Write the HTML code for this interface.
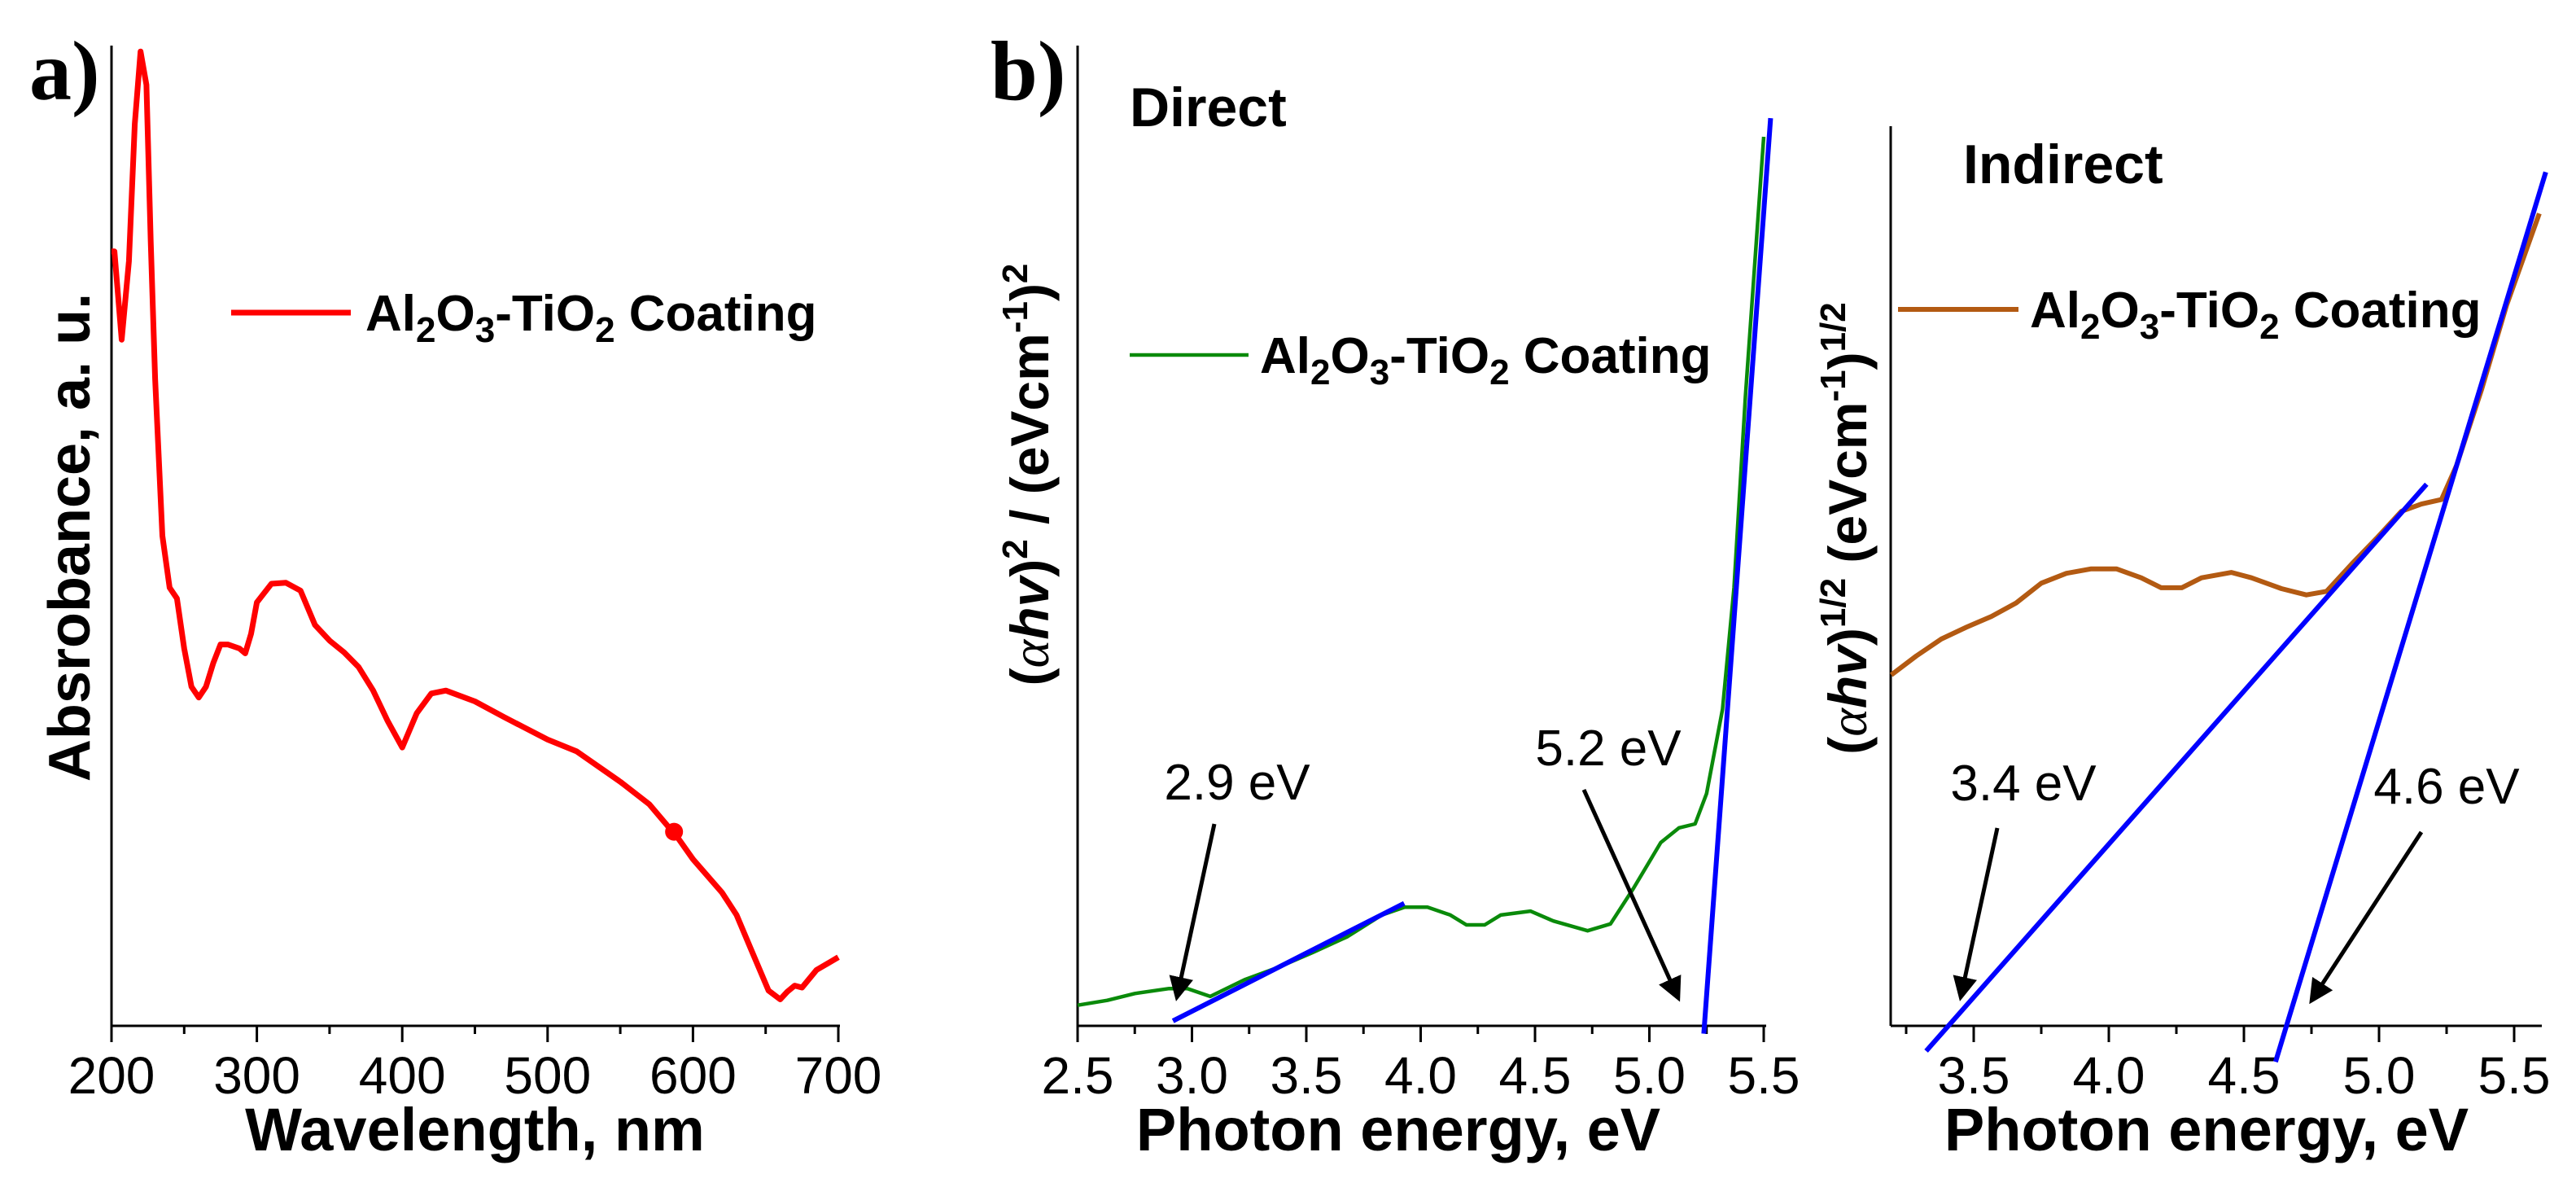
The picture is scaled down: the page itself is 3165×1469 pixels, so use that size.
<!DOCTYPE html>
<html><head><meta charset="utf-8"><style>
html,body{margin:0;padding:0;background:#fff;}
svg{display:block;}
text{font-family:"Liberation Sans",Arial,sans-serif;}
.serif{font-family:"Liberation Serif",serif;}
</style></head><body>
<svg id="fig" width="3165" height="1469" viewBox="0 0 3165 1469" xmlns="http://www.w3.org/2000/svg">
<defs>
<marker id="ah" markerWidth="6" markerHeight="6" refX="5" refY="3" orient="auto" markerUnits="strokeWidth"><path d="M0,0 L6,3 L0,6 Z" fill="#000"/></marker>
</defs>
<g id="pa"></g>
<g id="pb"></g>
<g id="pc"></g>
</svg>
<script>
// Panel a data
const aWl = [200,202,207,212,216,220,224,227,230,235,240,245,250,255,260,265,270,275,280,288,292,296,300,310,320,330,340,350,360,370,380,390,400,410,420,430,450,470,500,520,550,570,590,600,620,630,640,652,660,665,670,675,685,700];
const aAbs = [0.79,0.79,0.70,0.78,0.92,0.994,0.96,0.80,0.66,0.50,0.447,0.436,0.385,0.346,0.335,0.346,0.37,0.389,0.389,0.385,0.38,0.40,0.432,0.451,0.452,0.444,0.409,0.393,0.381,0.366,0.342,0.311,0.284,0.319,0.339,0.342,0.331,0.315,0.292,0.280,0.249,0.226,0.191,0.170,0.136,0.113,0.078,0.036,0.027,0.035,0.041,0.039,0.057,0.07];
const aTicks = [200,300,400,500,600,700];
const aMarker = [587,0.198];
// Panel b data
const bE = [2.5,2.63,2.75,2.9,2.98,3.08,3.23,3.38,3.53,3.68,3.83,3.93,4.03,4.13,4.2,4.28,4.35,4.48,4.58,4.73,4.83,4.93,5.05,5.13,5.2,5.25,5.32,5.37,5.42,5.5];
const bV = [0.021,0.026,0.033,0.038,0.038,0.030,0.047,0.060,0.075,0.091,0.113,0.121,0.121,0.113,0.103,0.103,0.113,0.117,0.107,0.097,0.104,0.140,0.187,0.202,0.206,0.237,0.323,0.447,0.642,0.907];
const bFit1 = [[2.917,0.005],[3.928,0.125]];
const bFit2 = [[5.238,-0.008],[5.53,0.926]];
const bTicks = ["2.5","3.0","3.5","4.0","4.5","5.0","5.5"];
// Panel c data
const cE = [3.195,3.287,3.38,3.472,3.565,3.657,3.75,3.843,3.935,4.028,4.12,4.194,4.27,4.343,4.454,4.528,4.639,4.731,4.806,4.898,4.991,5.083,5.157,5.231,5.287,5.38,5.472,5.593];
const cV = [0.390,0.411,0.430,0.443,0.455,0.470,0.492,0.503,0.508,0.508,0.498,0.487,0.487,0.498,0.504,0.498,0.486,0.479,0.483,0.513,0.542,0.572,0.580,0.585,0.623,0.708,0.801,0.903];
const cFit1 = [[3.324,-0.028],[5.176,0.602]];
const cFit2 = [[4.617,-0.040],[5.617,0.949]];
const cTicks = ["3.5","4.0","4.5","5.0","5.5"];

const NS="http://www.w3.org/2000/svg";
function mk(parent,tag,attrs,txt){const e=document.createElementNS(NS,tag);for(const k in attrs)e.setAttribute(k,attrs[k]);if(txt!==undefined)e.textContent=txt;parent.appendChild(e);return e;}
function pathOf(xs,ys,sx,sy){return xs.map((x,i)=>(i?'L':'M')+sx(x).toFixed(1)+','+sy(ys[i]).toFixed(1)).join(' ');}
const AX=1260;

// ---------- Panel a ----------
const pa=document.getElementById('pa');
const ax=w=>137+(w-200)*(1030-137)/500, ay=v=>1260-v*(1260-56);
let e;
e=mk(pa,'line',{x1:137,y1:56,x2:137,y2:AX,stroke:'#000','stroke-width':3});


e=mk(pa,'line',{x1:137,y1:AX,x2:1032,y2:AX,stroke:'#000','stroke-width':3});


for(let w=200;w<=700;w+=50){const maj=w%100===0;e=mk(pa,'line',{x1:ax(w),y1:AX,x2:ax(w),y2:AX+(maj?20:10),stroke:'#000','stroke-width':3});

}
aTicks.forEach(t=>{e=mk(pa,'text',{x:ax(t),y:1343,'font-size':64,'text-anchor':'middle'},String(t));

});
e=mk(pa,'text',{x:ax(450),y:1413,'font-size':74,'font-weight':'bold','text-anchor':'middle'},'Wavelength, nm');


e=mk(pa,'text',{x:0,y:0,'font-size':72,'font-weight':'bold','text-anchor':'middle',transform:'translate(110,660) rotate(-90)'},'Absrobance, a. u.');


e=mk(pa,'text',{x:36,y:122,'font-size':104,'font-weight':'bold','class':'serif'},'a)');


e=mk(pa,'path',{d:pathOf(aWl,aAbs,ax,ay),fill:'none',stroke:'#ff0000','stroke-width':7,'stroke-linejoin':'round'});


e=mk(pa,'circle',{cx:ax(aMarker[0]),cy:ay(aMarker[1]),r:11,fill:'#ff0000'});


e=mk(pa,'line',{x1:284,y1:384,x2:431,y2:384,stroke:'#ff0000','stroke-width':7});



function legendText(g,x,y,name){const t=mk(g,'text',{x:x,y:y,'font-size':62,'font-weight':'bold'});


t.innerHTML='Al<tspan dy="14" font-size="44">2</tspan><tspan dy="-14">O</tspan><tspan dy="14" font-size="44">3</tspan><tspan dy="-14">-TiO</tspan><tspan dy="14" font-size="44">2</tspan><tspan dy="-14"> Coating</tspan>';}
legendText(pa,449,406,'legend-text-a');

// ---------- Panel b ----------
const pb=document.getElementById('pb');
const bx=v=>1324+(v-2.5)*281, by=v=>1260-v*(1260-56);
e=mk(pb,'line',{x1:1324,y1:56,x2:1324,y2:AX,stroke:'#000','stroke-width':3});


e=mk(pb,'line',{x1:1324,y1:AX,x2:2170,y2:AX,stroke:'#000','stroke-width':3});


for(let k=0;k<=12;k++){const v=2.5+k*0.25;e=mk(pb,'line',{x1:bx(v),y1:AX,x2:bx(v),y2:AX+(k%2===0?20:10),stroke:'#000','stroke-width':3});

}
bTicks.forEach(t=>{e=mk(pb,'text',{x:bx(parseFloat(t)),y:1343,'font-size':64,'text-anchor':'middle'},t);

});
e=mk(pb,'text',{x:1718,y:1413,'font-size':74,'font-weight':'bold','text-anchor':'middle'},'Photon energy, eV');


e=mk(pb,'text',{x:0,y:0,'font-size':66,'font-weight':'bold','text-anchor':'middle',transform:'translate(1288,583) rotate(-90)'});


e.innerHTML='(<tspan font-weight="normal" class="serif" font-style="italic">α</tspan><tspan font-style="italic">hv</tspan>)<tspan dy="-26" font-size="44">2</tspan><tspan dy="26"> / (eVcm</tspan><tspan dy="-26" font-size="44">-1</tspan><tspan dy="26">)</tspan><tspan dy="-26" font-size="44">2</tspan>';
e=mk(pb,'text',{x:1217,y:122,'font-size':104,'font-weight':'bold','class':'serif'},'b)');


e=mk(pb,'text',{x:1388,y:155,'font-size':68,'font-weight':'bold'},'Direct');


e=mk(pb,'path',{d:pathOf(bE,bV,bx,by),fill:'none',stroke:'#0a8a0a','stroke-width':4.5,'stroke-linejoin':'round'});


[bFit1,bFit2].forEach((f,i)=>{e=mk(pb,'line',{x1:bx(f[0][0]),y1:by(f[0][1]),x2:bx(f[1][0]),y2:by(f[1][1]),stroke:'#0000ff','stroke-width':6});

});
e=mk(pb,'line',{x1:1388,y1:436,x2:1534,y2:436,stroke:'#0a8a0a','stroke-width':4.5});


legendText(pb,1548,458,'legend-text-b');
e=mk(pb,'text',{x:1520,y:982,'font-size':62,'text-anchor':'middle'},'2.9 eV');


e=mk(pb,'line',{x1:1492,y1:1012,x2:1446,y2:1225,stroke:'#000','stroke-width':5,'marker-end':'url(#ah)'});


e=mk(pb,'text',{x:1976,y:940,'font-size':62,'text-anchor':'middle'},'5.2 eV');


e=mk(pb,'line',{x1:1946,y1:970,x2:2062,y2:1226,stroke:'#000','stroke-width':5,'marker-end':'url(#ah)'});



// ---------- Panel c ----------
const pc=document.getElementById('pc');
const cx=v=>2425+(v-3.5)*332, cy=v=>1260-v*(1260-155);
e=mk(pc,'line',{x1:2323,y1:155,x2:2323,y2:AX,stroke:'#000','stroke-width':3});


e=mk(pc,'line',{x1:2323,y1:AX,x2:3123,y2:AX,stroke:'#000','stroke-width':3});


for(let k=0;k<=9;k++){const v=3.25+k*0.25;e=mk(pc,'line',{x1:cx(v),y1:AX,x2:cx(v),y2:AX+(k%2===1?20:10),stroke:'#000','stroke-width':3});

}
cTicks.forEach(t=>{e=mk(pc,'text',{x:cx(parseFloat(t)),y:1343,'font-size':64,'text-anchor':'middle'},t);

});
e=mk(pc,'text',{x:2711,y:1413,'font-size':74,'font-weight':'bold','text-anchor':'middle'},'Photon energy, eV');


e=mk(pc,'text',{x:0,y:0,'font-size':66,'font-weight':'bold','text-anchor':'middle',transform:'translate(2293,649) rotate(-90)'});


e.innerHTML='(<tspan font-weight="normal" class="serif" font-style="italic">α</tspan><tspan font-style="italic">hv</tspan>)<tspan dy="-26" font-size="44">1/2</tspan><tspan dy="26"> (eVcm</tspan><tspan dy="-26" font-size="44">-1</tspan><tspan dy="26">)</tspan><tspan dy="-26" font-size="44">1/2</tspan>';
e=mk(pc,'text',{x:2412,y:225,'font-size':68,'font-weight':'bold'},'Indirect');


e=mk(pc,'path',{d:pathOf(cE,cV,cx,cy),fill:'none',stroke:'#b35a12','stroke-width':6,'stroke-linejoin':'round'});


[cFit1,cFit2].forEach((f,i)=>{e=mk(pc,'line',{x1:cx(f[0][0]),y1:cy(f[0][1]),x2:cx(f[1][0]),y2:cy(f[1][1]),stroke:'#0000ff','stroke-width':6});

});
e=mk(pc,'line',{x1:2332,y1:380,x2:2480,y2:380,stroke:'#b35a12','stroke-width':6});


legendText(pc,2494,402,'legend-text-c');
e=mk(pc,'text',{x:2486,y:983,'font-size':62,'text-anchor':'middle'},'3.4 eV');


e=mk(pc,'line',{x1:2454,y1:1017,x2:2409,y2:1225,stroke:'#000','stroke-width':5,'marker-end':'url(#ah)'});


e=mk(pc,'text',{x:3006,y:987,'font-size':62,'text-anchor':'middle'},'4.6 eV');


e=mk(pc,'line',{x1:2975,y1:1022,x2:2840,y2:1229,stroke:'#000','stroke-width':5,'marker-end':'url(#ah)'});


</script>
</body></html>
